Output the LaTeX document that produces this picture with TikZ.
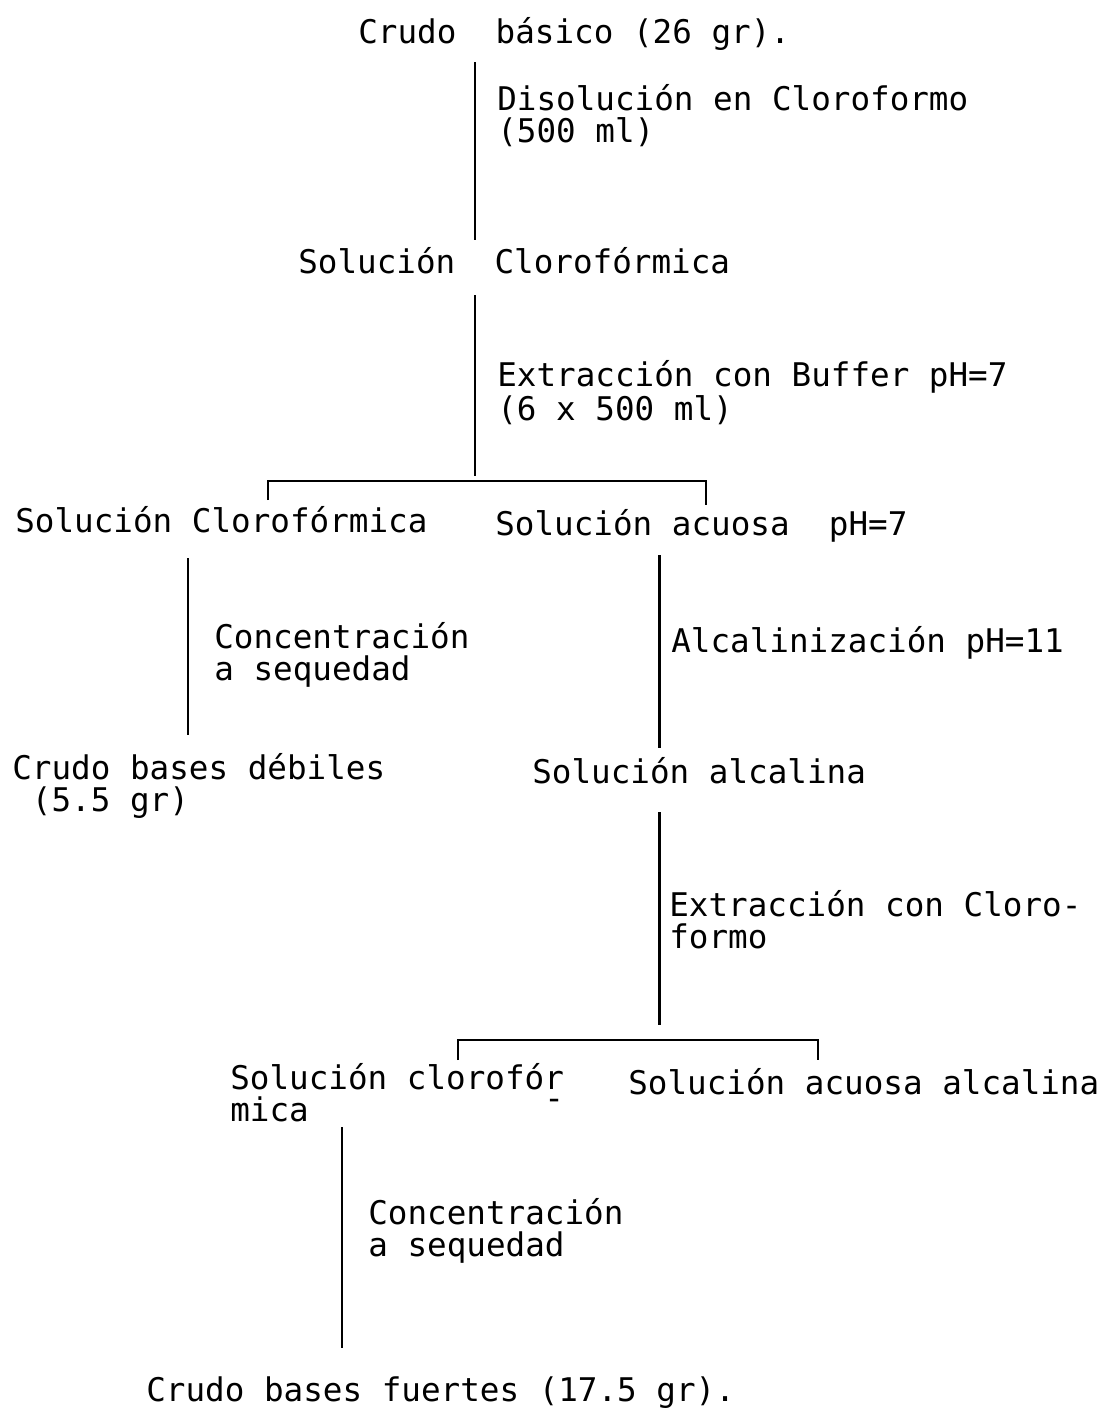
\documentclass[tikz,border=0pt]{standalone}
\usepackage{fontspec}
\setmonofont{DejaVu Sans Mono}
\usetikzlibrary{calc}

\begin{document}
\begin{tikzpicture}[x=0.02cm, y=-0.02cm]
\tikzstyle{product}=[anchor=base west, inner sep=0pt, align=left, font=\ttfamily\fontsize{18.55}{17.9}\selectfont];
\tikzstyle{step_label}=[product];
\tikzstyle{flow}=[line width=1.7pt];
\tikzstyle{split}=[line width=1.2pt];

\useasboundingbox (0,0) rectangle (1105,1410);

% multi-line nodes sit on the baseline of their last line
\node [product] at (358,43) (crudo) {Crudo\ \ básico (26 gr).};
\node [product] at (298,273) (solcl) {Solución\ \ Clorofórmica};
\node [product] at (15,532) (solcl_org) {Solución Clorofórmica};
\node [product] at (495,535) (solac) {Solución acuosa\ \ pH=7};
\node [product] at (12,811) (crudo_deb) {Crudo bases débiles\\\phantom{(}(5.5 gr)};
\node [product] at (532,783) (solalc) {Solución alcalina};
\node [product] at (230,1121) (solclor) {Solución clorofór\llap{\smash{\raisebox{-1.1ex}{-}}}\\mica};
\node [product] at (628,1094) (solac_alc) {Solución acuosa alcalina};
\node [product] at (146,1401) (crudo_fue) {Crudo bases fuertes (17.5 gr).};

\node [step_label] at (497,142) (disol) {Disolución en Cloroformo\\(500 ml)};
\node [step_label] at (497,420) (extr) {Extracción con Buffer pH=7\\(6 x 500 ml)};
\node [step_label] at (214,680) (conc_a) {Concentración\\a sequedad};
\node [step_label] at (671,652) (alcal) {Alcalinización pH=11};
\node [step_label] at (669,948) (extr_b) {Extracción con Cloro-\\formo};
\node [step_label] at (368,1256) (conc_b) {Concentración\\a sequedad};

\coordinate (colA) at (475,0);
\coordinate (colB) at (188,0);
\coordinate (colC) at (659,0);
\coordinate (colD) at (342,0);
\coordinate (fork1) at (475,481);
\coordinate (fork2) at (659,1040);

\draw[flow] ($(crudo.base -| colA)+(0,19)$) -- ($(solcl.base -| colA)+(0,-33)$);
\draw[flow] ($(solcl.base -| colA)+(0,22)$) -- ($(fork1)+(0,-5)$);
\draw[split] (fork1) ++(-207,19) |- (fork1) -| ++(231,24);

\draw[flow] ($(solcl_org.base -| colB)+(0,26)$) -- ($(crudo_deb.base -| colB)+(0,-76)$);
\draw[flow] ($(solac.base -| colC)+(0,20)$) -- ($(solalc.base -| colC)+(0,-35)$);

\draw[flow] ($(solalc.base -| colC)+(0,29)$) -- ($(fork2)+(0,-15)$);
\draw[split] (fork2) ++(-201,20) |- (fork2) -| ++(159,20);

\draw[flow] ($(solclor.base -| colD)+(0,6)$) -- ($(crudo_fue.base -| colD)+(0,-53)$);

\end{tikzpicture}
\end{document}
